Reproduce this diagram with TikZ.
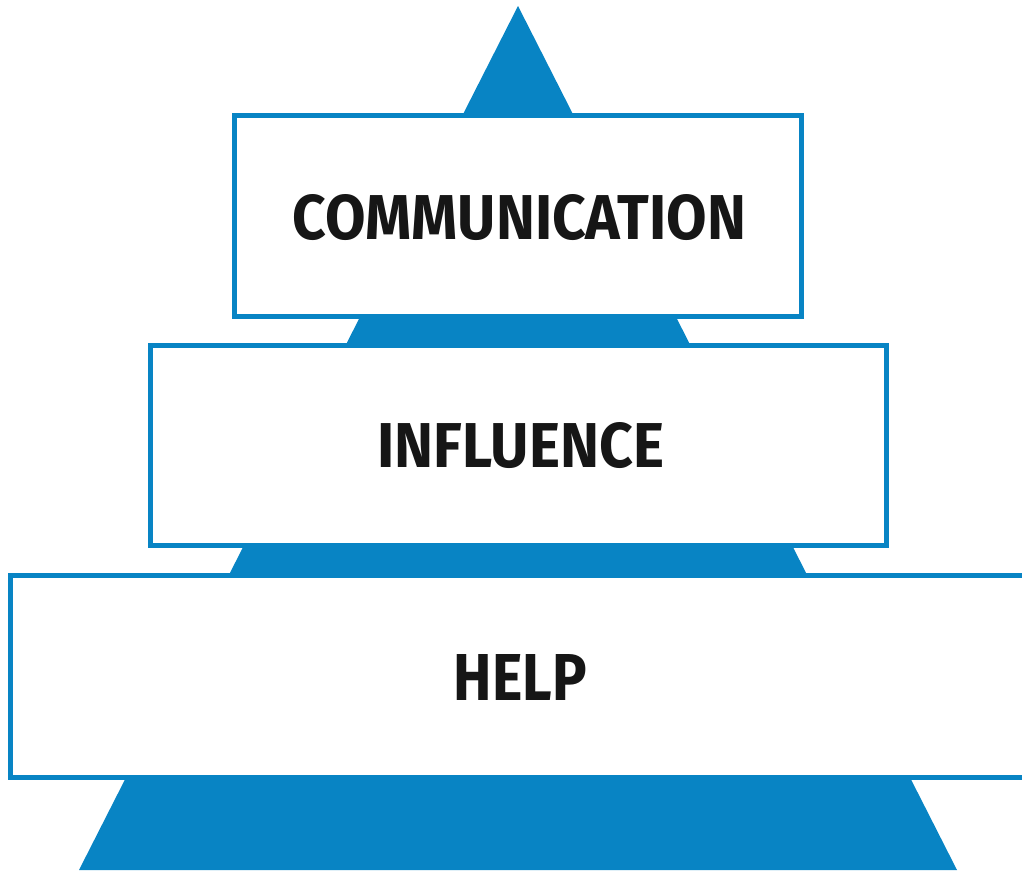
\documentclass[tikz,border=0pt]{standalone}
\usepackage{fontspec}
\setmainfont{Fira Sans}
\definecolor{pyrblue}{RGB}{8,132,196}
\definecolor{txtblack}{RGB}{22,22,22}
\begin{document}
\begin{tikzpicture}[x=1pt,y=-1pt,
  box/.style={draw=pyrblue, line width=5pt, fill=white, inner sep=0pt, outer sep=0pt},
  label/.style={text=txtblack, inner sep=0pt, font=\bfseries}]
\useasboundingbox (0,0) rectangle (1022,870);
\clip (0,0) rectangle (1022,870);
\fill[white] (0,0) rectangle (1022,870);
% pyramid
\coordinate (apex) at (518,6);
\coordinate (bl) at (79,870);
\coordinate (br) at (957,870);
\fill[pyrblue] (apex) -- (br) -- (bl) -- cycle;
% boxes
\node[box, minimum width=567pt, minimum height=201pt] (b1) at (518,216) {};
\node[box, minimum width=736pt, minimum height=200pt] (b2) at (518.5,445.5) {};
\node[box, minimum width=1029.5pt, minimum height=202pt] (b3) at (525.25,676.5) {};
% labels
\node[label] (t1) at (519.5,217.5) {\resizebox{453pt}{45pt}{COMMUNICATION}};
\node[label] (t2) at (520.5,445.5) {\resizebox{287pt}{45pt}{INFLUENCE}};
\node[label] (t3) at (520.5,677) {\resizebox{133pt}{46pt}{HELP}};
\end{tikzpicture}
\end{document}
